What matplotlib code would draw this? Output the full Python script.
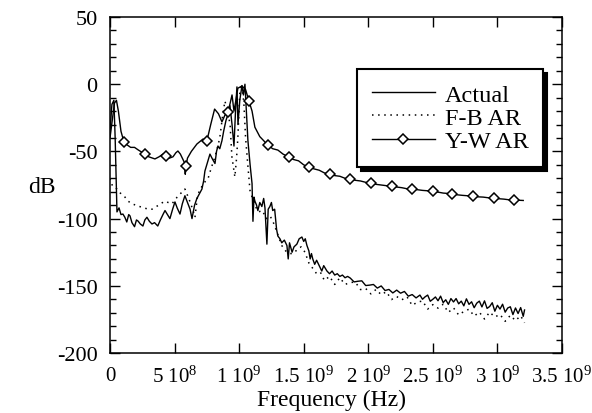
import numpy as np
import matplotlib
matplotlib.use("Agg")
import matplotlib.pyplot as plt
from matplotlib.ticker import MultipleLocator

plt.rcParams['font.family'] = ['Liberation Serif', 'DejaVu Serif']
plt.rcParams['mathtext.fontset'] = 'custom'
plt.rcParams['mathtext.rm'] = 'Liberation Serif'
plt.rcParams['mathtext.it'] = 'Liberation Serif:italic'
plt.rcParams['axes.unicode_minus'] = False

# frequencies in GHz, levels in dB
actual_f = [0.0, 0.015, 0.03, 0.04, 0.048, 0.054, 0.07, 0.085, 0.1, 0.115, 0.13, 0.145, 0.155, 0.17,
            0.19, 0.205, 0.217, 0.235, 0.255, 0.27, 0.286, 0.305, 0.325, 0.345, 0.37, 0.39, 0.41,
            0.426, 0.445, 0.464, 0.485, 0.503, 0.52, 0.542, 0.56, 0.58, 0.6, 0.62, 0.635, 0.655,
            0.673, 0.69, 0.712, 0.725, 0.735, 0.755, 0.774, 0.795, 0.813, 0.825, 0.836, 0.85, 0.867,
            0.88, 0.898, 0.915, 0.929, 0.945, 0.96, 0.972, 0.983, 0.991, 1.005, 1.022, 1.033, 1.045,
            1.056, 1.068, 1.085, 1.1, 1.107, 1.115, 1.122, 1.135, 1.145, 1.16, 1.176, 1.19, 1.2,
            1.215, 1.225, 1.238, 1.25, 1.26, 1.275, 1.29, 1.3, 1.316, 1.33, 1.35, 1.37, 1.38, 1.39,
            1.41, 1.425, 1.447, 1.465, 1.486, 1.5, 1.512, 1.525, 1.54, 1.55, 1.56, 1.57, 1.585,
            1.6, 1.625, 1.64, 1.655, 1.68, 1.7, 1.72, 1.74, 1.76, 1.78, 1.8, 1.82, 1.84,
            1.86, 1.89, 1.92, 1.95, 1.98, 2.01, 2.04, 2.07, 2.1, 2.13, 2.16, 2.19, 2.22, 2.25,
            2.28, 2.31, 2.34, 2.37, 2.4, 2.42, 2.44, 2.46, 2.48, 2.5, 2.52, 2.54, 2.56, 2.58,
            2.6, 2.62, 2.64, 2.66, 2.68, 2.7, 2.72, 2.74, 2.76, 2.78, 2.8, 2.82, 2.84, 2.86,
            2.88, 2.9, 2.92, 2.94, 2.96, 2.98, 3.0, 3.02, 3.04, 3.06, 3.08, 3.1, 3.12, 3.14,
            3.16, 3.18, 3.2, 3.21]
actual_db = [-35, -15, -12, -40, -70, -95, -92, -97, -96.6, -99, -102.5, -97, -98, -103,
             -106, -101, -101.8, -104, -105.5, -101, -99, -102, -104, -103, -105.5, -101, -97,
             -94, -97, -100, -93, -87.6, -92, -96.6, -89, -83, -88, -93, -100, -90,
             -85, -82, -78, -72, -64.6, -58, -52, -56, -59, -50, -46, -48, -42,
             -35, -27, -22, -16, -30, -46, -20, -2, -30, -12, -1, -8, 0,
             -20, -42, -60, -74, -102, -84, -87, -90, -94, -88, -91, -85, -92,
             -119, -93, -91, -88, -94, -93, -108, -113, -115, -118, -116, -120, -130, -118,
             -125, -121, -119, -115, -113.7, -117, -115, -120, -124, -130, -126, -130, -134,
             -131, -136, -139, -135, -139, -141, -139, -142, -141, -143, -142, -144, -143,
             -144.2, -147.1, -146.6, -146.3, -149.8, -149.5, -149.0, -151.7, -150.1, -153.5, -152.7,
             -155.3, -153.2, -155.5, -154.2, -157.7, -156.5, -159.0,
             -156.9, -160.0, -158.2, -156.9, -161.5, -160.0, -158.3, -161.1, -157.7, -162.5, -160.4,
             -163.8, -159.5, -162.0, -159.5, -163.4, -161.4, -164.9, -159.7, -163.8, -161.9, -166.3,
             -162.9, -161.4, -165.7, -161.2, -166.8, -165.4, -162.6, -168.9, -164.5, -167.3, -163.7,
             -169.6, -166.5, -165.6, -171.4, -166.5, -170.6, -166.2, -172.7, -168.0]

fb_f = [0.0, 0.02, 0.04, 0.054, 0.08, 0.116, 0.14, 0.17, 0.2, 0.217, 0.26, 0.3, 0.325, 0.36, 0.39,
        0.426, 0.45, 0.48, 0.52, 0.55, 0.58, 0.61, 0.64, 0.658, 0.675, 0.69, 0.712, 0.74, 0.76,
        0.785, 0.81, 0.83, 0.85, 0.87, 0.89, 0.91, 0.93, 0.944, 0.967, 0.98, 0.99, 1.006, 1.022,
        1.037, 1.05, 1.068, 1.084, 1.1, 1.12, 1.15, 1.18, 1.21, 1.24, 1.27, 1.3, 1.33, 1.36,
        1.39, 1.42, 1.45, 1.48, 1.51, 1.54, 1.57, 1.6, 1.63, 1.66, 1.7, 1.74, 1.78, 1.82,
        1.86, 1.9, 1.94, 1.98, 2.02, 2.06, 2.1, 2.14, 2.18, 2.22, 2.26, 2.3, 2.34, 2.38, 2.42,
        2.46, 2.5, 2.54, 2.58, 2.62, 2.66, 2.7, 2.74, 2.78, 2.82, 2.86, 2.9, 2.94, 2.98, 3.02,
        3.06, 3.1, 3.14, 3.18, 3.21]
fb_db = [-70, -76, -77, -78, -81, -84, -87, -89, -90, -90.6, -92, -93, -93, -91, -89,
         -87, -88, -89, -84, -81, -78, -85, -93, -99, -85, -80, -76, -72, -70,
         -62, -55, -48, -40, -25, -12.5, -20, -30, -54, -69, -55, -40, -5, 0,
         -15, -40, -61, -79, -84, -90, -95, -94, -100, -98, -104, -112, -120, -124,
         -126, -126, -123, -121, -125, -133, -137, -141, -140, -146, -143, -149,
         -144.0, -149.0, -147.5, -147.3, -152.8, -152.0, -156.0, -152.7, -156.6, -154.4, -160.2,
         -158.0, -160.4, -158.2, -164.6, -162.1, -161.3, -167.3, -164.0, -166.6, -163.7, -169.8,
         -166.4, -171.7, -169.1, -167.4, -172.5, -169.6, -174.7, -169.6, -173.2, -171.3, -176.4,
         -172.0, -175.9, -172.3, -177.5]

yw_f = [0.0, 0.02, 0.035, 0.05, 0.065, 0.085, 0.108, 0.13, 0.16, 0.19, 0.22, 0.27, 0.3, 0.348,
        0.38, 0.41, 0.433, 0.46, 0.488, 0.51, 0.526, 0.545, 0.575, 0.583, 0.588, 0.6, 0.63,
        0.673, 0.72, 0.75, 0.78, 0.81, 0.84, 0.867, 0.89, 0.913, 0.929, 0.945, 0.96, 0.975,
        0.99, 1.022, 1.05, 1.076, 1.1, 1.122, 1.16, 1.19, 1.22, 1.26, 1.3, 1.34, 1.385, 1.42,
        1.46, 1.5, 1.54, 1.58, 1.62, 1.66, 1.7, 1.74, 1.78, 1.82, 1.86, 1.9, 1.94, 1.98, 2.02,
        2.06, 2.1, 2.14, 2.18, 2.22, 2.26, 2.3, 2.34, 2.38, 2.42, 2.46, 2.5, 2.54, 2.58, 2.62,
        2.65, 2.69, 2.73, 2.77, 2.81, 2.85, 2.89, 2.93, 2.97, 3.01, 3.05, 3.09, 3.13, 3.2]
yw_db = [-40, -25, -14, -12, -20, -35, -43, -45, -47, -47, -49, -52, -54, -55.6,
         -54, -52, -53.4, -55, -54, -51, -49.7, -52, -58, -67, -61, -55, -50,
         -44.5, -40.8, -42.3, -30, -18.5, -22, -28, -23, -21, -14.7, -8, -20, -12,
         -3, -1.3, -4, -12.5, -20, -32, -39, -42, -45.2, -48, -49, -52, -54.2, -56,
         -57, -60, -61.6, -63, -64, -66, -66.8, -68, -68.5, -70, -70.5, -71.5, -72, -73, -73.5,
         -74.5, -75, -75.5, -75.7, -76.5, -77, -77.8, -78, -78.5, -79, -79.3, -79.5, -80.3, -81, -81.3,
         -81.7, -82.3, -82.7, -83, -83.2, -83.8, -84, -84.5, -84.7, -85.2, -85.5, -86, -86.2, -86.5]
yw_marker_f = [0.108, 0.27, 0.433, 0.588, 0.75, 0.913, 1.076, 1.22, 1.385, 1.54, 1.7, 1.86,
               2.02, 2.18, 2.34, 2.5, 2.65, 2.81, 2.97, 3.13]

x_ticks = [0, 0.5e9, 1e9, 1.5e9, 2e9, 2.5e9, 3e9, 3.5e9]
x_tick_labels = ['0', '5 $10^{8}$', '1 $10^{9}$', '1.5 $10^{9}$', '2 $10^{9}$',
                 '2.5 $10^{9}$', '3 $10^{9}$', '3.5 $10^{9}$']

fig = plt.figure(figsize=(5.92, 4.14), dpi=100)
ax = fig.add_axes([0.1858, 0.1449, 0.7635, 0.8116])

hz = lambda v: np.array(v) * 1e9
ax.plot(hz(actual_f), actual_db, color='black', lw=1.0, label='Actual')
ax.plot(hz(fb_f), fb_db, color='black', lw=1.1, ls=(0, (1, 3)), label='F-B AR')
marks = [int(np.argmin(np.abs(np.array(yw_f) - m))) for m in yw_marker_f]
ax.plot(hz(yw_f), yw_db, color='black', lw=1.0, marker='D', ms=5.5, mfc='white',
        mec='black', mew=1.1, markevery=marks, label='Y-W AR')

ax.set_xlim(0, 3.5e9)
ax.set_ylim(-200, 50)
ax.set_xticks(x_ticks)
ax.set_xticklabels(x_tick_labels)
ax.yaxis.set_major_locator(MultipleLocator(50))
ax.yaxis.set_minor_locator(MultipleLocator(10))
ax.tick_params(which='both', direction='in', top=True, right=True, colors='black')
ax.tick_params(axis='x', labelsize=15, pad=9)
ax.tick_params(axis='y', labelsize=16, pad=9)
ax.tick_params(which='major', length=7, width=1)
ax.tick_params(which='minor', length=4.5, width=1)
for s in ax.spines.values():
    s.set_linewidth(1.1)

ax.set_xlabel('Frequency (Hz)', fontsize=17)
ax.xaxis.set_label_coords(0.491, -0.137)
ax.xaxis.label.set_va('center')
ax.set_ylabel('dB', fontsize=17, rotation=0, ha='center', va='center')
ax.yaxis.set_label_coords(-0.15, 0.497)

leg = ax.legend(loc='upper right', bbox_to_anchor=(0.958, 0.845), borderaxespad=0,
                fontsize=17.5, handlelength=2.6, handletextpad=0.4, labelspacing=0.05,
                borderpad=0.6, fancybox=False, edgecolor='black', framealpha=1,
                shadow={'ox': 3, 'oy': -3, 'color': 'black', 'alpha': 1})
leg.get_frame().set_linewidth(1.5)

fig.savefig('out.png', dpi=100)
